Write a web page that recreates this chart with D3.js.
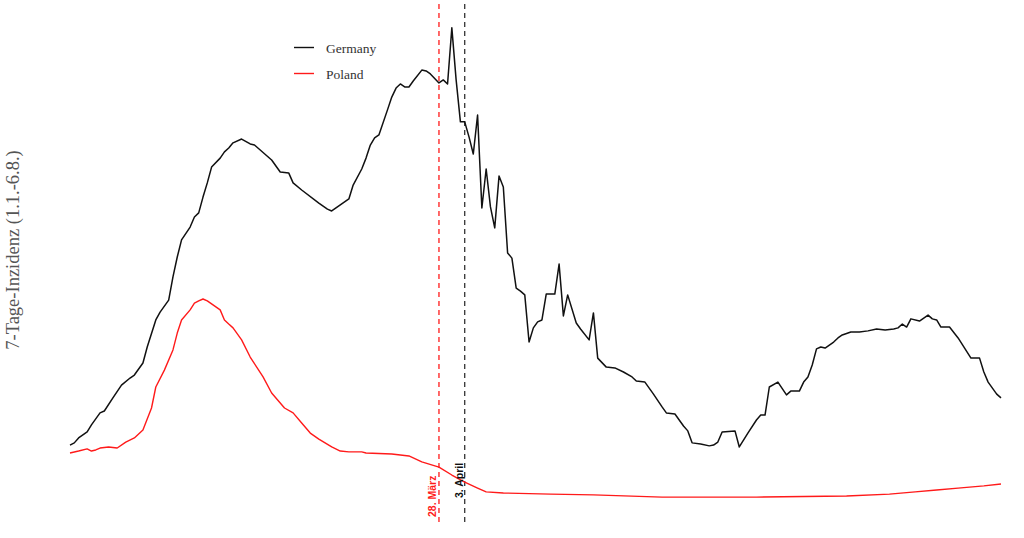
<!DOCTYPE html>
<html><head><meta charset="utf-8">
<script src="https://cdn.jsdelivr.net/npm/d3@7"></script>
<style>html,body{margin:0;padding:0;background:#fff;}svg{display:block;}</style>
</head><body>
<svg id="c" width="1024" height="538"></svg>
<script>
// Day offsets from 1 January 2022 (data span 1.1. – 6.8.)
const startDate = new Date(2022, 0, 1);
const endDate = new Date(2022, 7, 6);

const germanyDays = [0,1,2,4,5,7,8,10,12,14,15,17,18,20,21,23,24,25,26,28,29,30,31,32,33,35,36,37,38,40,42,43,47,49,51,52,54,58,60,61,63,65,66,68,69,70,71,72,74,75,76,77,78,79,80,82,83,84,86,87,88,89,90,91,92,93,94,95,96,97,98,99,100,101,102,103,104,105,106,107,108,109,110,111,113,114,115,116,118,119,121,122,123,125,127,129,131,132,134,136,138,139,141,142,143,144,145,147,149,150,151,152,155,156,158,160,161,162,163,165,167,168,170,171,172,173,174,175,176,177,178,179,180,182,184,186,188,190,192,193,194,195,196,198,200,201,202,203,205,207,210,212,213,214,215,216,217];
const germanyValues = [220,228,246,268,294,338,345,393,440,466,477,521,580,679,708,752,837,910,973,1020,1057,1072,1130,1182,1240,1273,1296,1310,1329,1343,1325,1321,1266,1222,1218,1182,1156,1108,1086,1079,1101,1123,1174,1233,1273,1321,1347,1358,1450,1497,1530,1545,1534,1534,1556,1596,1593,1582,1549,1560,1545,1751,1560,1406,1406,1351,1288,1431,1090,1233,1094,1017,1207,1167,925,906,796,785,771,598,650,672,679,774,774,884,694,771,668,646,606,705,539,506,503,488,470,455,451,407,360,338,334,312,290,272,228,224,217,220,231,268,272,213,264,312,330,330,433,451,404,418,418,451,470,514,573,580,576,587,598,613,624,635,635,639,646,642,646,650,664,653,683,675,697,683,679,653,653,613,539,539,488,451,429,407,393];

const polandDays = [0,2,4,5,6,7,9,11,13,15,17,19,20,22,24,25,26,28,29,30,31,32,34,35,36,37,38,40,42,45,47,50,52,54,56,58,61,63,65,68,69,75,79,82,86,89,92,95,97,101,112,122,138,160,181,191,197,202,207,213,217];
const polandValues = [191,198,206,198,202,209,213,209,231,246,275,356,433,495,569,631,679,716,741,749,756,749,727,716,679,664,650,606,543,470,411,356,338,301,264,242,213,198,195,195,191,187,180,158,139,110,84,62,48,44,40,37,29,29,33,40,48,55,62,70,77];

const markerDates = [new Date(2022, 2, 28), new Date(2022, 3, 3)];
const markerLabels = ["28. März", "3. April"];
const seriesNames = ["Germany", "Poland"];
const yLabel = "7-Tage-Inzidenz (1.1.-6.8.)";

const dayToDate = d => d3.timeDay.offset(startDate, d);

const svg = d3.select("#c");
const x = d3.scaleTime().domain([startDate, endDate]).range([70, 1001]);
const y = d3.scaleLinear().domain([0, 1800]).range([505, 14.5]);

const line = d3.line().x(d => x(d[0])).y(d => y(d[1]));

const de = germanyDays.map((d, i) => [dayToDate(d), germanyValues[i]]);
const pl = polandDays.map((d, i) => [dayToDate(d), polandValues[i]]);

const colors = ["#111111", "#ff1a1a"];

// vertical marker lines
const markerColors = ["#ff1a1a", "#333333"];
markerDates.forEach((dt, i) => {
  svg.append("line")
    .attr("x1", x(dt)).attr("x2", x(dt))
    .attr("y1", 4).attr("y2", 523)
    .attr("stroke", markerColors[i]).attr("stroke-width", 1.3)
    .attr("stroke-dasharray", "5,4");
});

svg.append("path").datum(pl).attr("d", line)
  .attr("fill", "none").attr("stroke", colors[1]).attr("stroke-width", 1.4)
  .attr("stroke-linejoin", "round");
svg.append("path").datum(de).attr("d", line)
  .attr("fill", "none").attr("stroke", colors[0]).attr("stroke-width", 1.5)
  .attr("stroke-linejoin", "round");

// marker labels
const labelOffsets = [{dx: -3, y: 517}, {dx: -2, y: 498}];
markerDates.forEach((dt, i) => {
  const lx = x(dt) + labelOffsets[i].dx;
  svg.append("text")
    .attr("transform", `translate(${lx},${labelOffsets[i].y}) rotate(-90)`)
    .attr("font-family", "Liberation Sans, Arial, sans-serif")
    .attr("font-weight", "bold")
    .attr("font-size", 10.5)
    .attr("fill", i === 0 ? "#ff1a1a" : "#111")
    .text(markerLabels[i]);
});

// legend
seriesNames.forEach((name, i) => {
  const ly = 47.5 + i * 26;
  svg.append("line").attr("x1", 294).attr("x2", 314).attr("y1", ly).attr("y2", ly)
    .attr("stroke", colors[i]).attr("stroke-width", 1.4);
  svg.append("text").attr("x", 326).attr("y", ly + 5)
    .attr("font-family", "Liberation Serif, Times New Roman, serif")
    .attr("font-size", 13.5).attr("fill", "#333")
    .text(name);
});

// y label
svg.append("text")
  .attr("transform", "translate(19,250) rotate(-90)")
  .attr("text-anchor", "middle")
  .attr("font-family", "Liberation Serif, Times New Roman, serif")
  .attr("font-size", 18.5).attr("fill", "#555")
  .text(yLabel);
</script>
</body></html>
